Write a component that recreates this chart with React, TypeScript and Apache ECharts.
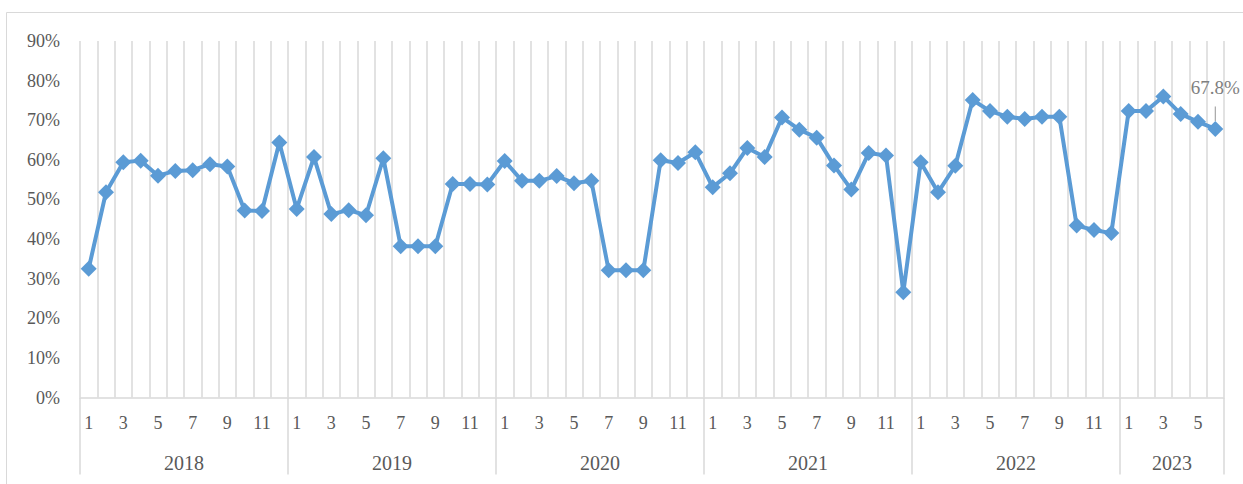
import React, { useEffect, useRef } from "react";
import * as echarts from "echarts";

const years = ["2018", "2019", "2020", "2021", "2022", "2023"];
const monthsPerYear = [12, 12, 12, 12, 12, 6];

const rate2018 = [32.5, 51.8, 59.4, 59.8, 56.0, 57.2, 57.4, 58.9, 58.3, 47.2, 47.1, 64.4];
const rate2019 = [47.6, 60.7, 46.3, 47.3, 46.0, 60.4, 38.2, 38.2, 38.2, 53.9, 53.9, 53.8];
const rate2020 = [59.7, 54.7, 54.7, 55.9, 54.1, 54.7, 32.1, 32.1, 32.1, 59.9, 59.2, 61.9];
const rate2021 = [53.1, 56.6, 63.0, 60.7, 70.7, 67.6, 65.6, 58.6, 52.5, 61.7, 61.1, 26.6];
const rate2022 = [59.4, 51.8, 58.5, 75.1, 72.3, 70.9, 70.3, 70.9, 70.9, 43.4, 42.3, 41.5];
const rate2023 = [72.3, 72.3, 76.0, 71.6, 69.6, 67.8];

const yTicks = [0, 10, 20, 30, 40, 50, 60, 70, 80, 90];

const FONT = "'Liberation Serif', 'Times New Roman', serif";
const GRID_COLOR = "#d9d9d9";
const TEXT_COLOR = "#595959";
const LINE_COLOR = "#5b9bd5";

export default function App() {
  const ref = useRef<HTMLDivElement>(null);

  useEffect(() => {
    document.body.style.margin = "0";
    if (!ref.current) return;
    const chart = echarts.init(ref.current, null, { renderer: "svg" });

    const rates = [...rate2018, ...rate2019, ...rate2020, ...rate2021, ...rate2022, ...rate2023];
    const categories: string[] = [];
    monthsPerYear.forEach((n) => {
      for (let m = 1; m <= n; m++) categories.push(String(m));
    });
    const total = categories.length;

    const boundaries: number[] = [0];
    const centers: number[] = [];
    let acc = 0;
    monthsPerYear.forEach((n) => {
      centers.push(acc + n / 2);
      acc += n;
      boundaries.push(acc);
    });

    const lastIdx = rates.length - 1;
    const seriesData = rates.map((v, i) =>
      i === lastIdx
        ? {
            value: v,
            label: {
              show: true,
              position: "top",
              distance: 24,
              formatter: "{c}%",
              color: "#7f7f7f",
              fontSize: 19,
              fontFamily: FONT,
            },
            labelLine: { show: true, lineStyle: { color: "#a6a6a6", width: 1.2 } },
          }
        : v
    );

    chart.setOption({
      animation: false,
      textStyle: { fontFamily: FONT },
      graphic: [
        {
          type: "rect",
          silent: true,
          z: -10,
          shape: { x: 6.5, y: 12.5, width: 1300, height: 600 },
          style: { fill: "none", stroke: GRID_COLOR, lineWidth: 1 },
        },
      ],
      grid: { left: 80, right: 19, top: 41, bottom: 86.5 },
      xAxis: [
        {
          type: "category",
          data: categories,
          boundaryGap: true,
          axisLine: { show: true, lineStyle: { color: GRID_COLOR, width: 1.5 } },
          axisTick: { show: false },
          axisLabel: {
            interval: (i: number) => i % 2 === 0,
            margin: 16,
            color: TEXT_COLOR,
            fontSize: 18,
            fontFamily: FONT,
          },
          splitLine: { show: true, interval: 0, lineStyle: { color: GRID_COLOR, width: 1.5 } },
        },
        {
          type: "value",
          position: "bottom",
          min: 0,
          max: total,
          axisLine: { show: false },
          axisTick: {
            show: true,
            customValues: boundaries,
            length: 77,
            lineStyle: { color: GRID_COLOR, width: 1.5 },
          },
          axisLabel: {
            customValues: centers,
            formatter: (v: number) => {
              const k = centers.findIndex((c) => Math.abs(c - v) < 1e-6);
              return k >= 0 ? years[k] : "";
            },
            margin: 55,
            color: TEXT_COLOR,
            fontSize: 20,
            fontFamily: FONT,
          },
          splitLine: { show: false },
        },
      ],
      yAxis: {
        type: "value",
        min: yTicks[0],
        max: yTicks[yTicks.length - 1],
        interval: 10,
        axisLine: { show: false },
        axisTick: { show: false },
        splitLine: { show: false },
        axisLabel: {
          formatter: "{value}%",
          margin: 20,
          color: TEXT_COLOR,
          fontSize: 18,
          fontFamily: FONT,
        },
      },
      series: [
        {
          type: "line",
          xAxisIndex: 0,
          data: seriesData,
          symbol: "diamond",
          symbolSize: 16,
          showAllSymbol: true,
          lineStyle: { color: LINE_COLOR, width: 4 },
          itemStyle: { color: LINE_COLOR },
          z: 5,
        },
      ],
    });

    return () => chart.dispose();
  }, []);

  return <div ref={ref} style={{ width: 1243, height: 484 }} />;
}
